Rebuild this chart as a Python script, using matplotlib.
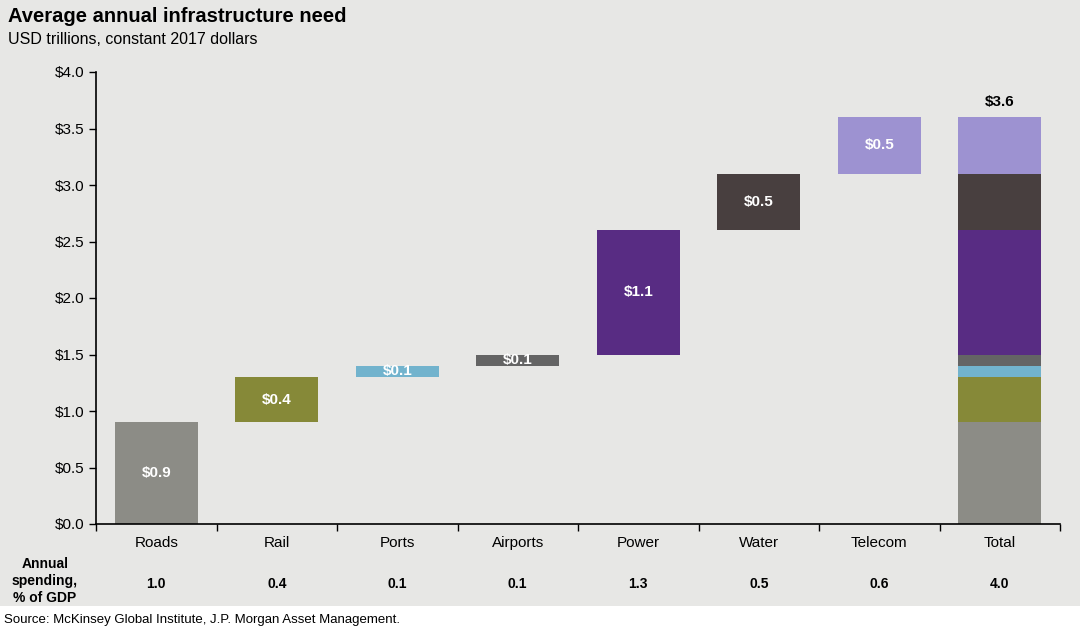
import numpy as np
import matplotlib.pyplot as plt
from matplotlib.patches import Rectangle

plt.rcParams['font.family'] = ['Liberation Sans', 'DejaVu Sans']

categories = ["Roads", "Rail", "Ports", "Airports", "Power", "Water", "Telecom"]
needs = [0.9, 0.4, 0.1, 0.1, 1.1, 0.5, 0.5]
spending = ["1.0", "0.4", "0.1", "0.1", "1.3", "0.5", "0.6", "4.0"]
colors = ["#8c8c86", "#868938", "#72b3cd", "#646464", "#582c83", "#483f3f", "#9d92d1"]
total_label = "$3.6"

bg = "#e7e7e5"
fig = plt.figure(figsize=(10.8, 6.31), dpi=100)
fig.patch.set_facecolor(bg)
fig.patches.append(Rectangle((0, 0), 1, 25 / 631, transform=fig.transFigure,
                             facecolor="white", edgecolor="none", zorder=0))
ax = fig.add_axes([96 / 1080, 1 - 524 / 631, 964 / 1080, 452 / 631])
ax.set_facecolor(bg)

bottoms = np.concatenate([[0], np.cumsum(needs)[:-1]])
x = np.arange(len(categories))
w = 0.69
for i in range(len(categories)):
    ax.bar(x[i], needs[i], bottom=bottoms[i], width=w, color=colors[i])
    ax.bar(len(categories), needs[i], bottom=bottoms[i], width=w, color=colors[i])
    ax.text(x[i], bottoms[i] + needs[i] / 2, f"${needs[i]:.1f}", ha="center", va="center",
            color="white", fontsize=11, fontweight="bold")
ax.text(len(categories), sum(needs) + 0.07, total_label, ha="center", va="bottom",
        fontsize=11, fontweight="bold")

ax.set_xlim(-0.5, len(categories) + 0.5)
ax.set_ylim(0, 4)
ax.set_yticks(np.arange(0, 4.01, 0.5))
ax.set_yticklabels([f"${v:.1f}" for v in np.arange(0, 4.01, 0.5)], fontsize=11)
ax.set_xticks(np.arange(-0.5, len(categories) + 0.6, 1))
ax.set_xticklabels([])
ax.tick_params(axis="both", direction="out", length=5, width=1, color="black")
for s in ["top", "right"]:
    ax.spines[s].set_visible(False)
for s in ["left", "bottom"]:
    ax.spines[s].set_linewidth(1.2)

labels = categories + ["Total"]
for i, lab in enumerate(labels):
    ax.text(i, -0.17, lab, ha="center", va="center", fontsize=11,
            transform=ax.transData)
    ax.text(i, -0.53, spending[i], ha="center", va="center", fontsize=10,
            fontweight="bold", transform=ax.transData)

fig.text(45 / 1080, 1 - 581 / 631, "Annual\nspending,\n% of GDP", ha="center", va="center",
         fontsize=10, fontweight="bold", linespacing=1.3)

fig.text(8 / 1080, 1 - 17 / 631, "Average annual infrastructure need", ha="left", va="center",
         fontsize=14.5, fontweight="bold")
fig.text(8 / 1080, 1 - 39 / 631, "USD trillions, constant 2017 dollars", ha="left", va="center",
         fontsize=11.5)
fig.text(4 / 1080, 1 - 620 / 631, "Source: McKinsey Global Institute, J.P. Morgan Asset Management.",
         ha="left", va="center", fontsize=9.5)

fig.savefig("out.png", dpi=100, facecolor=fig.get_facecolor())
